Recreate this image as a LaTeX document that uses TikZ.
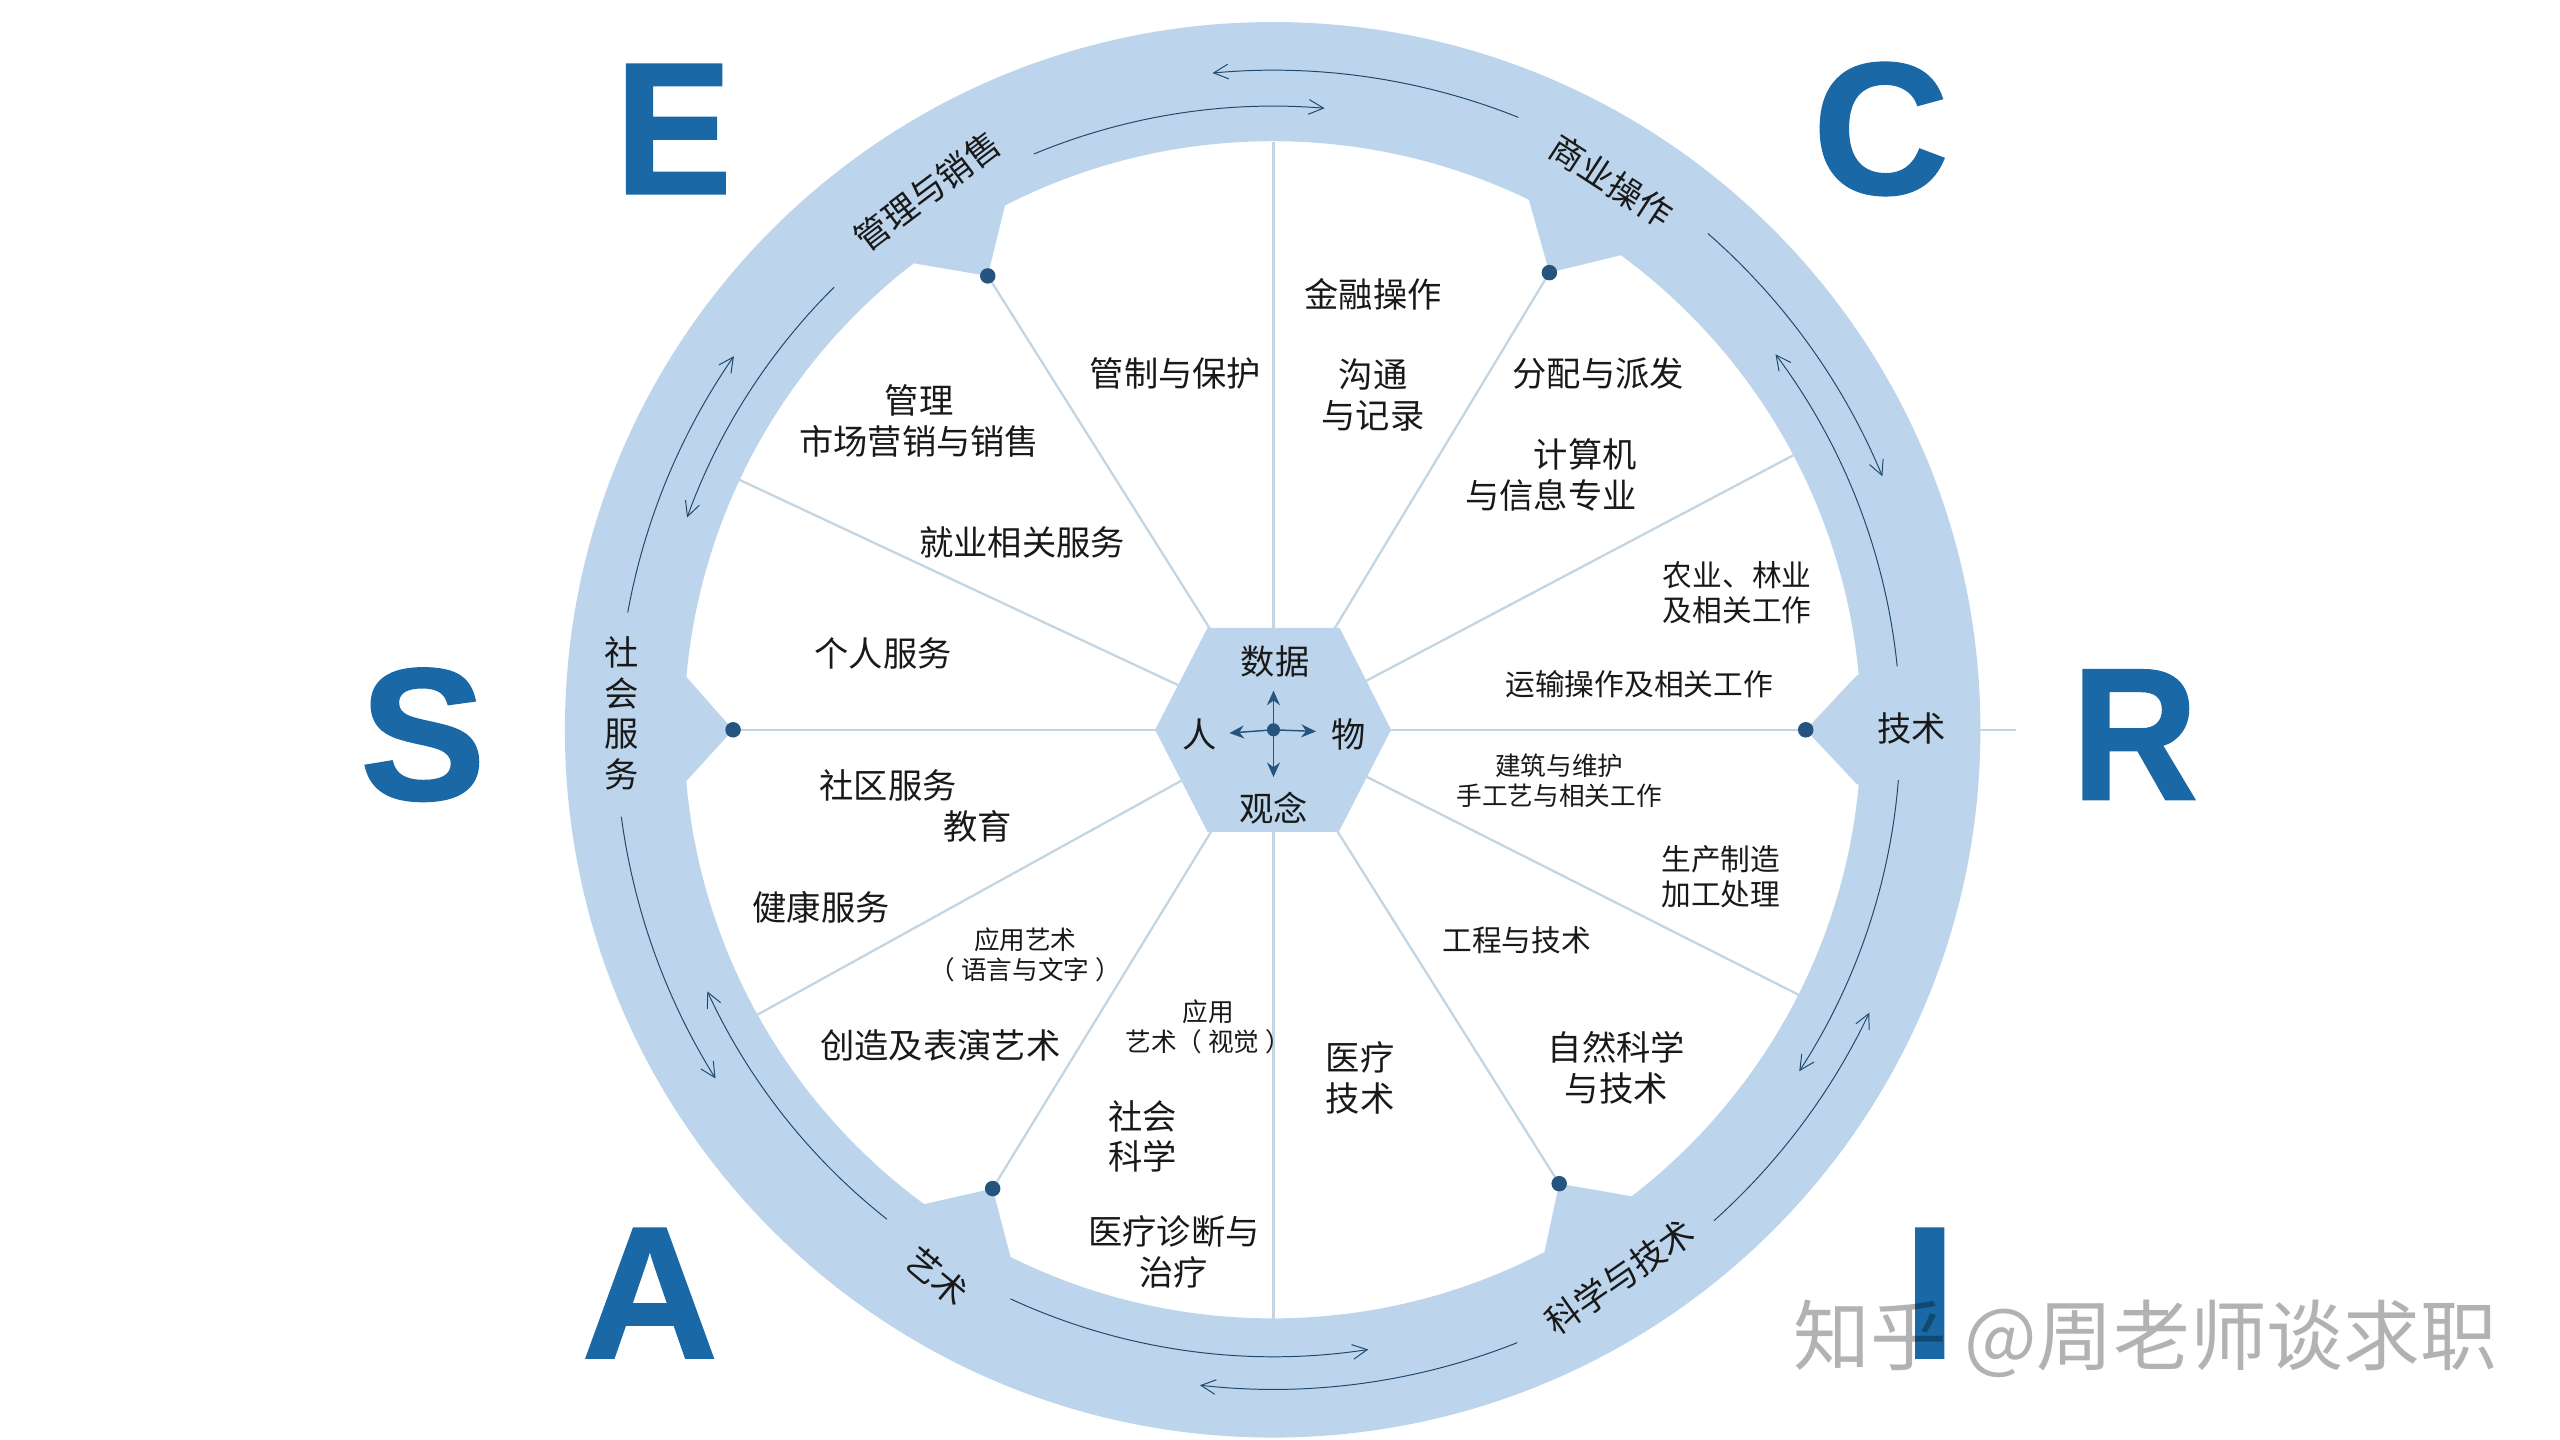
\documentclass[tikz,border=0pt]{standalone}
\usepackage{fontspec}
\setmainfont{Noto Sans CJK SC}
\newfontfamily\letterfont[FakeBold=1.2]{Liberation Sans Bold}
\usetikzlibrary{arrows.meta}
\definecolor{ringblue}{HTML}{BCD5EC}
\definecolor{spokeblue}{HTML}{C4D5E2}
\definecolor{letterblue}{HTML}{1A69A6}
\definecolor{dotblue}{HTML}{25557F}
\begin{document}
\begin{tikzpicture}[
    x = 1pt, y = -1pt,
    txt/.style = {align = center, inner sep = 0pt, text = black!90, font = \fontsize{21}{25}\selectfont},
    mid/.style = {txt, font = \fontsize{18.2}{22}\selectfont},
    tiny/.style = {txt, font = \fontsize{15.7}{18.5}\selectfont},
    bigletter/.style = {inner sep = 0pt, text = letterblue, font = \fontsize{115}{115}\letterfont},
    narrow/.style = {xscale = .93, transform shape},
    spoke/.style = {draw = spokeblue, line width = 1.4pt},
    tab/.style = {fill = ringblue},
    pin/.style = {circle, fill = dotblue, inner sep = 0pt, minimum size = 9.5pt},
    ringarrow/.style = {draw = dotblue!85!black, line width = .6pt, -{Straight Barb[length = 9pt, width = 9pt, line width = .6pt]}},
    hubarrow/.style = {draw = dotblue, line width = .9pt, -{Stealth[length = 9pt, width = 8pt]}},
  ]
  \useasboundingbox (0,0) rectangle (1568,882);
  \coordinate (hubc) at (780,447);
  \coordinate (stub) at (1235,447);
  \coordinate (sptop) at (780,87);
  \coordinate (spbot) at (780,808);
  \coordinate (spne) at (1100,278);
  \coordinate (spse) at (1103,610);
  \coordinate (spnw) at (451,293);
  \coordinate (spsw) at (463,622);
  \coordinate (ptE) at (605,169);
  \coordinate (ptC) at (949,167);
  \coordinate (ptR) at (1106,447);
  \coordinate (ptS) at (449,447);
  \coordinate (ptI) at (955,725);
  \coordinate (ptA) at (608,728);

  \foreach \e in {stub,sptop,spbot,spne,spse,spnw,spsw,ptE,ptC,ptS,ptI,ptA}
    \draw[spoke] (hubc) -- (\e);

  % ring and its six tabs
  \fill[ringblue,even odd rule] (779.5,447) circle[radius = 433.5] (779.5,447) circle[radius = 360.5];
  \fill[tab] (ptE) -- (616,124) -- (630,90) -- (540,136) -- (558,161) -- cycle;
  \fill[tab] (ptC) -- (936,121) -- (925,90) -- (1015,135) -- (994,156) -- cycle;
  \fill[tab] (ptR) -- (1137,414) -- (1165,400) -- (1165,494) -- (1137,480) -- cycle;
  \fill[tab] (ptS) -- (419,413) -- (395,400) -- (395,494) -- (419,480) -- cycle;
  \fill[tab] (ptI) -- (1001,733) -- (1020,755) -- (945,805) -- (945.5,769) -- cycle;
  \fill[tab] (ptA) -- (619.5,772) -- (632,800) -- (540,745) -- (564,738) -- cycle;
  \node[pin] (pinE) at (ptE) {};
  \node[pin] (pinC) at (ptC) {};
  \node[pin] (pinR) at (ptR) {};
  \node[pin] (pinS) at (ptS) {};
  \node[pin] (pinI) at (ptI) {};
  \node[pin] (pinA) at (ptA) {};

  % radius/from/to, angles run clockwise on the page
  \foreach \r/\a/\b in {404/-68.2/-95.3, 382/-112.6/-85.3, 404/-48.8/-22.6, 384/-5.8/-36.8,
      384/4.6/33, 404/48.1/25.4, 384/114.8/81.3, 404/68.3/96.4,
      403/-187.6/-212, 382/-231.7/-204.8, 402/-169.7/-145.3, 382/-134.8/-160.1}
    \draw[ringarrow,shift = {(hubc)}] (\a:\r) arc[start angle = \a, end angle = \b, radius = \r];

  % hub
  \fill[ringblue] (707.5,447) -- (739.6,384.5) -- (820.5,384.5) -- (852,447) -- (820,509.5) -- (739.6,509.5) -- cycle;
  \node[pin, minimum size = 8pt] (hubdot) at (hubc) {};
  \coordinate (hubup) at (780,423);
  \coordinate (hubdn) at (780,476);
  \coordinate (hublf) at (753,449);
  \coordinate (hubrt) at (806,448);
  \foreach \e in {hubup,hubdn,hublf,hubrt}
    \draw[hubarrow] (hubdot.center) -- (\e);
  \node[txt] (data) at (781,405) {数据};
  \node[txt] (people) at (735,450) {人};
  \node[txt] (things) at (826,450) {物};
  \node[txt] (ideas) at (780,495) {观念};

  % ring labels
  \node[txt, rotate = 37] (lbE) at (568,117) {管理与销售};
  \node[txt, rotate = -33] (lbC) at (987,111) {商业操作};
  \node[txt] (lbR) at (1171,446) {技术};
  \node[txt] (lbS) at (381,437) {社\\会\\服\\务};
  \node[txt, rotate = -40] (lbA) at (574,782) {艺术};
  \node[txt, rotate = 35] (lbI) at (992,782) {科学与技术};

  % big letters
  \node[bigletter, narrow] (letE) at (412.5,79) {E};
  \node[bigletter] (letC) at (1152,79) {C};
  \node[bigletter] (letS) at (259,450) {S};
  \node[bigletter, narrow] (letR) at (1307.5,450) {R};
  \node[bigletter] (letA) at (398,792) {A};
  \node[bigletter] (letI) at (1182,792) {I};

  % occupations
  \node[txt] (o1) at (841,180) {金融操作};
  \node[txt] (o2) at (841,242) {沟通\\与记录};
  \node[txt] (o3) at (720,229) {管制与保护};
  \node[txt] (o4) at (979,229) {分配与派发};
  \node[txt, align = right] (o5) at (950,291) {计算机\\与信息专业};
  \node[txt] (o6) at (563,258) {管理\\市场营销与销售};
  \node[txt] (o7) at (626,332) {就业相关服务};
  \node[txt] (o8) at (541,400) {个人服务};
  \node[mid] (o9) at (1064,363) {农业、林业\\及相关工作};
  \node[mid] (o10) at (1004,419) {运输操作及相关工作};
  \node[tiny] (o11) at (955,478) {建筑与维护\\手工艺与相关工作};
  \node[mid] (o12) at (1054,537) {生产制造\\加工处理};
  \node[mid] (o13) at (929,576) {工程与技术};
  \node[txt] (o14) at (990,654) {自然科学\\与技术};
  \node[txt] (o15) at (833,660) {医疗\\技术};
  \node[txt] (o16) at (544,481) {社区服务};
  \node[txt] (o17) at (599,506) {教育};
  \node[txt] (o18) at (503,556) {健康服务};
  \node[tiny] (o19) at (628,585) {应用艺术\\（ 语言与文字 ）};
  \node[txt] (o20) at (576,640) {创造及表演艺术};
  \node[tiny] (o21) at (740,629) {应用\\艺术（ 视觉 ）};
  \node[txt] (o22) at (700,696) {社会\\科学};
  \node[txt] (o23) at (719,767) {医疗诊断与\\治疗};

  \node[inner sep = 0pt, text = black, text opacity = .3, font = \fontsize{47}{52}\selectfont] (mark) at (1314,820) {知乎 @周老师谈求职};
\end{tikzpicture}
\end{document}
